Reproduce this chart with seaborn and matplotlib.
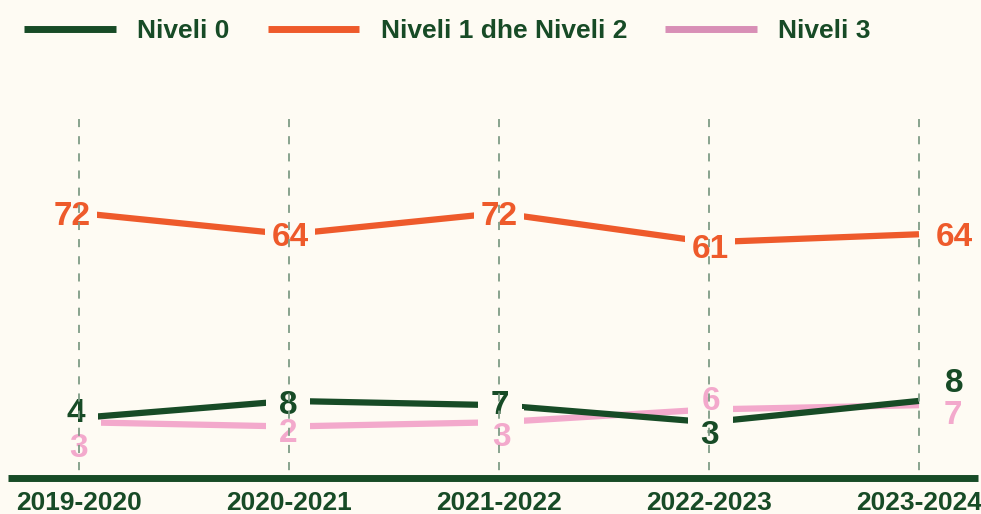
import numpy as np
import pandas as pd
import matplotlib
matplotlib.use("Agg")
import matplotlib.pyplot as plt
from matplotlib.lines import Line2D
import seaborn as sns

# ---------------- data ----------------
years = ["2019-2020", "2020-2021", "2021-2022", "2022-2023", "2023-2024"]
series_names = ["Niveli 0", "Niveli 1 dhe Niveli 2", "Niveli 3"]
niveli_0 = [4, 8, 7, 3, 8]
niveli_1_2 = [72, 64, 72, 61, 64]
niveli_3 = [3, 2, 3, 6, 7]

# ---------------- style ----------------
BG = "#FEFBF3"
GREEN = "#174B26"
ORANGE = "#EE5A2B"
PINK = "#F3A9CC"
PINK_LEGEND = "#D88FB6"
DASH = "#7F9C86"
colors = {"Niveli 0": GREEN, "Niveli 1 dhe Niveli 2": ORANGE, "Niveli 3": PINK}
legend_colors = [GREEN, ORANGE, PINK_LEGEND]
draw_order = ["Niveli 3", "Niveli 1 dhe Niveli 2", "Niveli 0"]

# label offsets in pixels (dx right, dy down)
label_offsets = {
    "Niveli 1 dhe Niveli 2": [(-7, 0), (1, 0), (0, 0), (1, 4), (35, 0)],
    "Niveli 0": [(-3, -8), (-1, 1), (1, -3), (1, 10), (35, -21)],
    "Niveli 3": [(0, 23), (-1, 4), (3, 12), (2, -11), (34, 7)],
}
mask_pad = {"Niveli 1 dhe Niveli 2": 0.18, "Niveli 0": 0.39, "Niveli 3": 0.39}

sns.set_theme(style="white")
plt.rcParams["font.family"] = ["Liberation Sans", "DejaVu Sans"]

df = pd.DataFrame({
    "x": list(range(len(years))) * 3,
    "value": niveli_0 + niveli_1_2 + niveli_3,
    "series": [s for s in series_names for _ in years],
})

W, H = 981, 514
fig = plt.figure(figsize=(W / 100, H / 100), dpi=100, facecolor=BG)
ax_left, ax_right, ax_top, ax_bottom = 8, 978, 119, 477.5
ax = fig.add_axes([ax_left / W, (H - ax_bottom) / H,
                   (ax_right - ax_left) / W, (ax_bottom - ax_top) / H])
ax.set_facecolor(BG)

# broken (piecewise linear) vertical scale: low values expanded
B_LO, B_HI, OFF = 4.26, 2.66, 30.5
V_BRK = OFF / (B_LO - B_HI)

def fwd(v):
    v = np.asarray(v, dtype=float)
    return np.minimum(B_LO * v, B_HI * v + OFF)

def inv(t):
    t = np.asarray(t, dtype=float)
    return np.where(t <= B_LO * V_BRK, t / B_LO, (t - OFF) / B_HI)

ax.set_yscale("function", functions=(fwd, inv))

sns.lineplot(data=df, x="x", y="value", hue="series", palette=colors,
             hue_order=draw_order, linewidth=4.5, legend=False, sort=False,
             ax=ax, solid_capstyle="butt", zorder=2)

# x spacing: 210 px per category, first category at x=79 px
px_per_cat = 210
ax.set_xlim((ax_left - 79) / px_per_cat, 4 + (ax_right - 919) / px_per_cat)
zero_px = 435
ax.set_ylim(float(inv(zero_px - ax_bottom)), float(inv(zero_px - ax_top)))

# labels: masks first, then texts
data_map = {"Niveli 0": niveli_0, "Niveli 1 dhe Niveli 2": niveli_1_2, "Niveli 3": niveli_3}
FS = 24
for name in series_names:
    for i, v in enumerate(data_map[name]):
        dx, dy = label_offsets[name][i]
        ax.annotate(str(v), xy=(i, v), xytext=(dx * 0.72, -(dy + 12) * 0.72),
                    textcoords="offset points", ha="center", va="baseline",
                    fontsize=FS, fontweight="bold", color="none", zorder=3,
                    bbox=dict(boxstyle=f"square,pad={mask_pad[name]}", fc=BG, ec="none"))
for name in series_names:
    for i, v in enumerate(data_map[name]):
        dx, dy = label_offsets[name][i]
        ax.annotate(str(v), xy=(i, v), xytext=(dx * 0.72, -(dy + 12) * 0.72),
                    textcoords="offset points", ha="center", va="baseline",
                    fontsize=FS, fontweight="bold", color=colors[name], zorder=4)

# dashed verticals on top, dash pattern starting at the top
for i in range(len(years)):
    ax.plot([i, i], [1, 0], transform=ax.get_xaxis_transform(), color=DASH,
            lw=1.3, ls=(0, (4.5, 5)), zorder=7)

for s in ["left", "right", "top"]:
    ax.spines[s].set_visible(False)
ax.spines["bottom"].set_color(GREEN)
ax.spines["bottom"].set_linewidth(5.0)
ax.spines["bottom"].set_capstyle("butt")
ax.spines["bottom"].set_zorder(6)

ax.set_xticks(range(len(years)))
ax.set_xticklabels(years, fontsize=19, fontweight="bold", color=GREEN)
ax.tick_params(axis="x", length=0, pad=10)
ax.set_yticks([])
ax.yaxis.set_minor_locator(matplotlib.ticker.NullLocator())
ax.set_xlabel("")
ax.set_ylabel("")

handles = [Line2D([0], [0], color=c, lw=5.0, solid_capstyle="butt") for c in legend_colors]
fig.legend(handles, series_names, loc="upper left", bbox_to_anchor=(24 / W, 1 - 19 / H),
           ncol=3, frameon=False, handlelength=3.48, handletextpad=0.8,
           columnspacing=1.45, borderpad=0, borderaxespad=0,
           prop={"size": 19, "weight": "bold"}, labelcolor=GREEN)

fig.savefig("out.png", dpi=100, facecolor=BG)
